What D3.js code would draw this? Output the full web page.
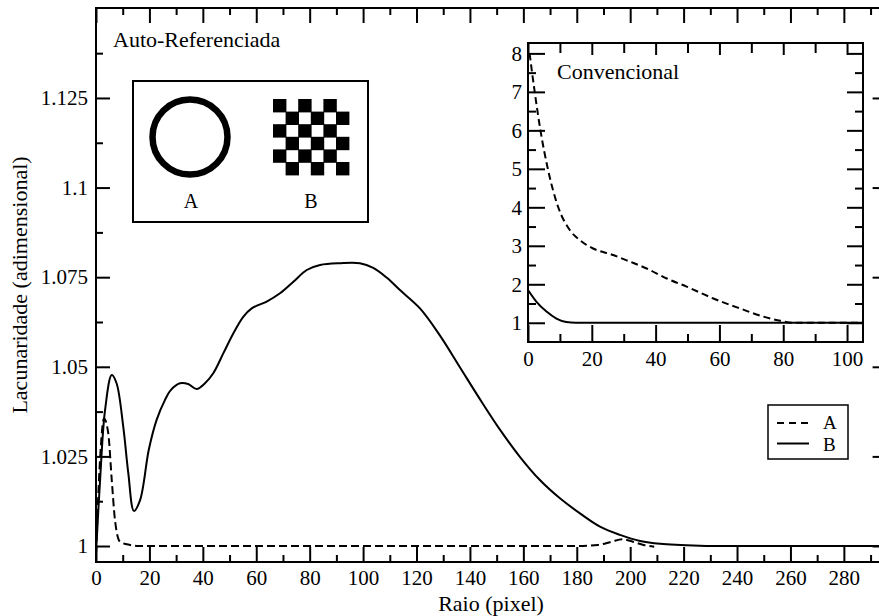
<!DOCTYPE html>
<html>
<head>
<meta charset="utf-8">
<script src="https://cdn.jsdelivr.net/npm/d3@7"></script>
<style>
  body { margin: 0; background: #fff; }
  svg { display: block; font-family: "Liberation Serif", "Times New Roman", serif; }
  .tick text { font-family: "Liberation Serif", serif; fill: #000; }
</style>
</head>
<body>
<div id="chart"></div>
<script>
// main chart: auto-referenced lacunarity vs radius
var radiusA = [0, 1.5, 3.0, 4.6, 5.9, 7.1, 9.0, 12.7, 16, 60, 120, 180, 188, 193, 197, 201, 205, 209];
var lacA    = [0.998, 1.024, 1.0356, 1.0314, 1.0184, 1.0073, 1.0012, 1.0003, 1.0, 1.0, 1.0, 1.0, 1.0003, 1.0012, 1.0019, 1.0012, 1.0003, 0.9998];

var radiusB = [0, 1.5, 3.4, 5.9, 7.7, 10.2, 12.1, 14.2, 16.5, 19.8, 22.7, 25.8, 28, 31.4, 34.5, 37.7, 40.8, 43.9, 47.7, 51.4, 55.2, 58.3, 63.9, 68.9, 73.9, 78.9, 83.9, 91.4, 98.8, 103.8, 108.8, 113.8, 121.3, 128.8, 136.3, 143.8, 151.3, 158.7, 166.2, 173.7, 181.2, 188.7, 196.2, 203.7, 211.2, 226, 245, 296];
var lacB    = [0.998, 1.018, 1.038, 1.0477, 1.0454, 1.0333, 1.0203, 1.0098, 1.0128, 1.027, 1.0352, 1.0407, 1.0435, 1.0454, 1.0452, 1.0438, 1.0454, 1.0482, 1.0538, 1.0593, 1.064, 1.0663, 1.0682, 1.0705, 1.0737, 1.077, 1.0784, 1.0789, 1.0789, 1.0776, 1.0749, 1.0714, 1.0663, 1.0587, 1.0498, 1.0409, 1.0324, 1.0249, 1.0184, 1.0133, 1.0091, 1.0054, 1.0031, 1.0014, 1.0006, 1.0001, 1.0, 1.0];

// inset: conventional lacunarity
var insetRadiusA = [0.5, 2.1, 3.9, 6.3, 9.4, 13.1, 16.2, 20.4, 26.7, 31.9, 37.2, 43.5, 49.7, 58.1, 66.5, 73.8, 79.1, 83.2, 105];
var insetA       = [8.0, 7.0, 6.0, 4.97, 4.02, 3.41, 3.15, 2.93, 2.76, 2.59, 2.41, 2.15, 1.94, 1.63, 1.37, 1.16, 1.05, 1.0, 1.0];
var insetRadiusB = [0, 2.6, 5.8, 8.9, 12, 15, 105];
var insetB       = [1.85, 1.55, 1.29, 1.11, 1.02, 1.0, 1.0];

var xTicks = [0, 20, 40, 60, 80, 100, 120, 140, 160, 180, 200, 220, 240, 260, 280];
var xMinor = [10, 30, 50, 70, 90, 110, 130, 150, 170, 190, 210, 230, 250, 270, 290];
var yTicks = [1, 1.025, 1.05, 1.075, 1.1, 1.125];
var yTickLabels = ["1", "1.025", "1.05", "1.075", "1.1", "1.125"];
var yMinor = [1.0125, 1.0375, 1.0625, 1.0875, 1.1125, 1.1375];

var insetXTicks = [0, 20, 40, 60, 80, 100];
var insetXMinor = [10, 30, 50, 70, 90];
var insetYTicks = [1, 2, 3, 4, 5, 6, 7, 8];
var insetYMinor = [1.5, 2.5, 3.5, 4.5, 5.5, 6.5, 7.5];

var seriesNames = ["A", "B"];
// 6x6 checkerboard of glyph B, 1 = black
var boardRows = [
  [1,0,1,0,1,0],
  [0,1,0,1,0,1],
  [1,0,1,0,1,0],
  [0,1,0,1,0,1],
  [1,0,1,0,1,0],
  [0,1,0,1,0,1]
];

var W = 879, H = 616;
var svg = d3.select("#chart").append("svg")
    .attr("width", W)
    .attr("height", H);

var x = d3.scaleLinear().domain([0, 296]).range([96, 886.6]);
var y = d3.scaleLinear().domain([0.99554, 1.1501]).range([562, 8]);

var dashA = "8,4";

function axisStyle(g, fs) {
  g.select(".domain").remove();
  g.selectAll(".tick line").attr("stroke", "#000").attr("stroke-width", 2);
  g.selectAll(".tick text").attr("font-size", fs);
}

// ticks (inward)
svg.append("g").attr("transform", "translate(0,562)")
  .call(d3.axisBottom(x).tickValues(xTicks).tickSize(-15).tickPadding(8).tickFormat(d3.format("d")))
  .call(axisStyle, 21);
svg.append("g").attr("transform", "translate(0,562)")
  .call(d3.axisBottom(x).tickValues(xMinor).tickSize(-7).tickFormat(""))
  .call(axisStyle, 21);
svg.append("g").attr("transform", "translate(0,8)")
  .call(d3.axisTop(x).tickValues(xTicks).tickSize(-15).tickFormat(""))
  .call(axisStyle, 21);
svg.append("g").attr("transform", "translate(0,8)")
  .call(d3.axisTop(x).tickValues(xMinor).tickSize(-7).tickFormat(""))
  .call(axisStyle, 21);
svg.append("g").attr("transform", "translate(96,0)")
  .call(d3.axisLeft(y).tickValues(yTicks).tickSize(-14).tickPadding(8)
    .tickFormat(function(d, i) { return yTickLabels[i]; }))
  .call(axisStyle, 21);
svg.append("g").attr("transform", "translate(96,0)")
  .call(d3.axisLeft(y).tickValues(yMinor).tickSize(-7).tickFormat(""))
  .call(axisStyle, 21);
svg.append("g").attr("transform", "translate(886.6,0)")
  .call(d3.axisRight(y).tickValues(yTicks).tickSize(-14).tickFormat(""))
  .call(axisStyle, 21);
svg.append("g").attr("transform", "translate(886.6,0)")
  .call(d3.axisRight(y).tickValues(yMinor).tickSize(-7).tickFormat(""))
  .call(axisStyle, 21);

// frame
svg.append("rect")
  .attr("x", 96).attr("y", 8)
  .attr("width", 886.6 - 96).attr("height", 562 - 8)
  .attr("fill", "none").attr("stroke", "#000").attr("stroke-width", 2);

svg.append("clipPath").attr("id", "mainClip")
  .append("rect").attr("x", 96).attr("y", 8).attr("width", 790.6).attr("height", 554);

var lineA = d3.line()
  .curve(d3.curveMonotoneX)
  .x(function(d) { return x(d[0]); })
  .y(function(d) { return y(d[1]); });
var lineB = d3.line()
  .curve(d3.curveCatmullRom.alpha(0.5))
  .x(function(d) { return x(d[0]); })
  .y(function(d) { return y(d[1]); });

var plot = svg.append("g").attr("clip-path", "url(#mainClip)");
plot.append("path")
  .attr("d", lineA(d3.zip(radiusA, lacA)))
  .attr("fill", "none").attr("stroke", "#000").attr("stroke-width", 2)
  .attr("stroke-dasharray", dashA);
plot.append("path")
  .attr("d", lineB(d3.zip(radiusB, lacB)))
  .attr("fill", "none").attr("stroke", "#000").attr("stroke-width", 2);

// axis titles
svg.append("text")
  .attr("x", 491).attr("y", 611)
  .attr("text-anchor", "middle").attr("font-size", 22)
  .text("Raio (pixel)");
svg.append("text")
  .attr("transform", "translate(27,285) rotate(-90)")
  .attr("text-anchor", "middle").attr("font-size", 22)
  .text("Lacunaridade (adimensional)");
svg.append("text")
  .attr("x", 113).attr("y", 47).attr("font-size", 22)
  .text("Auto-Referenciada");

// glyph box
var glyph = svg.append("g");
glyph.append("rect")
  .attr("x", 133).attr("y", 81).attr("width", 235).attr("height", 141)
  .attr("fill", "#fff").attr("stroke", "#000").attr("stroke-width", 2);
glyph.append("circle")
  .attr("cx", 190).attr("cy", 137).attr("r", 37.5)
  .attr("fill", "none").attr("stroke", "#000").attr("stroke-width", 6.5);
var cell = 12.6;
boardRows.forEach(function(row, r) {
  row.forEach(function(v, c) {
    if (v) glyph.append("rect")
      .attr("x", 273 + c * cell).attr("y", 99 + r * cell)
      .attr("width", cell + 0.8).attr("height", cell + 0.8)
      .attr("fill", "#000");
  });
});
glyph.selectAll("text.gl").data(seriesNames).enter().append("text")
  .attr("x", function(d, i) { return i ? 311 : 191; })
  .attr("y", 208).attr("text-anchor", "middle").attr("font-size", 20)
  .text(function(d) { return d; });

// legend
var leg = svg.append("g");
leg.append("rect")
  .attr("x", 768).attr("y", 405).attr("width", 80).attr("height", 54)
  .attr("fill", "#fff").attr("stroke", "#000").attr("stroke-width", 1.5);
leg.selectAll("line.l").data(seriesNames).enter().append("line")
  .attr("x1", 777).attr("x2", 809)
  .attr("y1", function(d, i) { return 423 + i * 20.5; })
  .attr("y2", function(d, i) { return 423 + i * 20.5; })
  .attr("stroke", "#000").attr("stroke-width", 2)
  .attr("stroke-dasharray", function(d, i) { return i ? null : "7,5"; });
leg.selectAll("text.l").data(seriesNames).enter().append("text")
  .attr("x", 823).attr("y", function(d, i) { return 429 + i * 22; })
  .attr("font-size", 19)
  .text(function(d) { return d; });

// inset
var ix = d3.scaleLinear().domain([0, 105]).range([528, 863]);
var iy = d3.scaleLinear().domain([0.5, 8.27]).range([342, 43]);

var inset = svg.append("g");
inset.append("rect")
  .attr("x", 528).attr("y", 43).attr("width", 335).attr("height", 299)
  .attr("fill", "#fff");

inset.append("g").attr("transform", "translate(0,342)")
  .call(d3.axisBottom(ix).tickValues(insetXTicks).tickSize(-17).tickPadding(9).tickFormat(d3.format("d")))
  .call(axisStyle, 21);
inset.append("g").attr("transform", "translate(0,342)")
  .call(d3.axisBottom(ix).tickValues(insetXMinor).tickSize(-8).tickFormat(""))
  .call(axisStyle, 21);
inset.append("g").attr("transform", "translate(0,43)")
  .call(d3.axisTop(ix).tickValues(insetXTicks).tickSize(-12).tickFormat(""))
  .call(axisStyle, 21);
inset.append("g").attr("transform", "translate(0,43)")
  .call(d3.axisTop(ix).tickValues(insetXMinor).tickSize(-10).tickFormat(""))
  .call(axisStyle, 21);
inset.append("g").attr("transform", "translate(528,0)")
  .call(d3.axisLeft(iy).tickValues(insetYTicks).tickSize(-17).tickPadding(6).tickFormat(d3.format("d")))
  .call(axisStyle, 21);
inset.append("g").attr("transform", "translate(528,0)")
  .call(d3.axisLeft(iy).tickValues(insetYMinor).tickSize(-8).tickFormat(""))
  .call(axisStyle, 21);
inset.append("g").attr("transform", "translate(863,0)")
  .call(d3.axisRight(iy).tickValues(insetYTicks).tickSize(-16).tickFormat(""))
  .call(axisStyle, 21);
inset.append("g").attr("transform", "translate(863,0)")
  .call(d3.axisRight(iy).tickValues(insetYMinor).tickSize(-8).tickFormat(""))
  .call(axisStyle, 21);

inset.append("rect")
  .attr("x", 528).attr("y", 43).attr("width", 335).attr("height", 299)
  .attr("fill", "none").attr("stroke", "#000").attr("stroke-width", 2);

svg.append("clipPath").attr("id", "insetClip")
  .append("rect").attr("x", 528).attr("y", 43).attr("width", 335).attr("height", 299);

var iline = d3.line()
  .curve(d3.curveMonotoneX)
  .x(function(d) { return ix(d[0]); })
  .y(function(d) { return iy(d[1]); });

var ip = inset.append("g").attr("clip-path", "url(#insetClip)");
ip.append("path")
  .attr("d", iline(d3.zip(insetRadiusA, insetA)))
  .attr("fill", "none").attr("stroke", "#000").attr("stroke-width", 2)
  .attr("stroke-dasharray", "7,4");
ip.append("path")
  .attr("d", iline(d3.zip(insetRadiusB, insetB)))
  .attr("fill", "none").attr("stroke", "#000").attr("stroke-width", 2);

inset.append("text")
  .attr("x", 557).attr("y", 79).attr("font-size", 22)
  .text("Convencional");
</script>
</body>
</html>
